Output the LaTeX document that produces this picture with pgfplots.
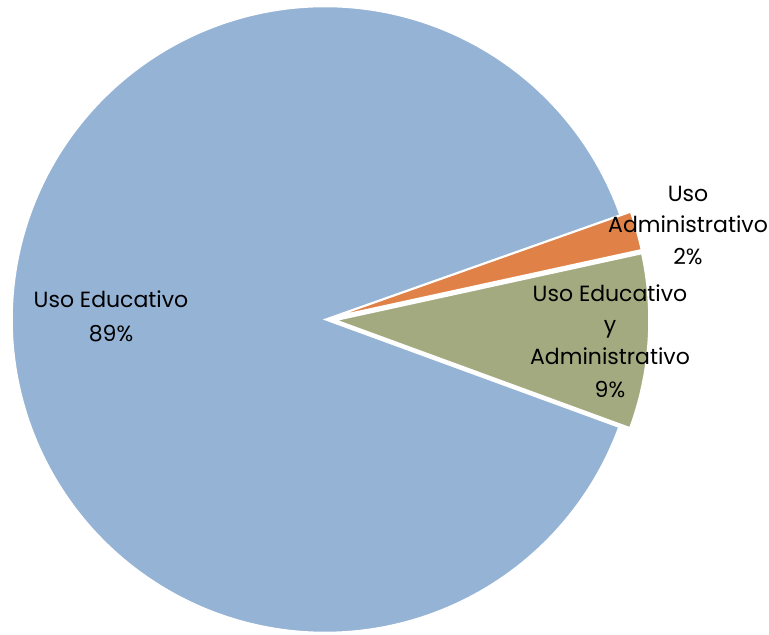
\documentclass[border=0pt]{standalone}
\usepackage{pgfplots}
\pgfplotsset{compat=1.18}
\usepackage{fontspec}
\setmainfont{Poppins}
\definecolor{cblue}{RGB}{149,179,213}
\definecolor{corange}{RGB}{224,130,72}
\definecolor{cgreen}{RGB}{164,170,128}
% shares (percent)
\def\vEdu{89}\def\vAdm{2}\def\vBoth{9}
\def\aStart{19.5}
\pgfmathsetmacro{\aA}{\aStart-3.6*\vAdm}
\pgfmathsetmacro{\aB}{\aA-3.6*\vBoth}
\pgfmathsetmacro{\mA}{(\aStart+\aA)/2}
\pgfmathsetmacro{\mB}{(\aA+\aB)/2}
\def\cx{325}\def\cy{315.5}\def\R{313}\def\ex{11}
\pgfmathsetmacro{\oAx}{\cx+\ex*cos(\mA)}\pgfmathsetmacro{\oAy}{\cy+\ex*sin(\mA)}
\pgfmathsetmacro{\oBx}{\cx+\ex*cos(\mB)}\pgfmathsetmacro{\oBy}{\cy+\ex*sin(\mB)}
\begin{document}
\begin{tikzpicture}
\begin{axis}[hide axis, scale only axis, width=769bp, height=635bp,
  xmin=0, xmax=769, ymin=0, ymax=635, clip=false]
\addplot[draw=none] coordinates {(0,0) (769,635)};
% Uso Educativo
\addplot[fill=cblue, draw=white, line width=1.5bp, domain=\aStart:\aB+360, samples=240, variable=\t]
  ({\cx+\R*cos(\t)}, {\cy+\R*sin(\t)}) -- (\cx,\cy) -- cycle;
% Uso Administrativo
\addplot[fill=corange, draw=white, line width=1.5bp, domain=\aA:\aStart, samples=20, variable=\t]
  ({\oAx+\R*cos(\t)}, {\oAy+\R*sin(\t)}) -- (\oAx,\oAy) -- cycle;
% Uso Educativo y Administrativo
\addplot[fill=cgreen, draw=white, line width=1.5bp, domain=\aB:\aA, samples=60, variable=\t]
  ({\oBx+\R*cos(\t)}, {\oBy+\R*sin(\t)}) -- (\oBx,\oBy) -- cycle;
\tikzset{lbl/.style={anchor=base, inner sep=0pt, font=\fontsize{22bp}{26bp}\selectfont}}
\node[lbl] at (111,327) {Uso Educativo};
\node[lbl] at (111,293) {89\%};
\node[lbl] at (688,433) {Uso};
\node[lbl] at (688,402) {Administrativo};
\node[lbl] at (688,370) {2\%};
\node[lbl] at (610,333) {Uso Educativo};
\node[lbl] at (610,302) {y};
\node[lbl] at (610,270) {Administrativo};
\node[lbl] at (610,237) {9\%};
\end{axis}
\end{tikzpicture}
\end{document}
